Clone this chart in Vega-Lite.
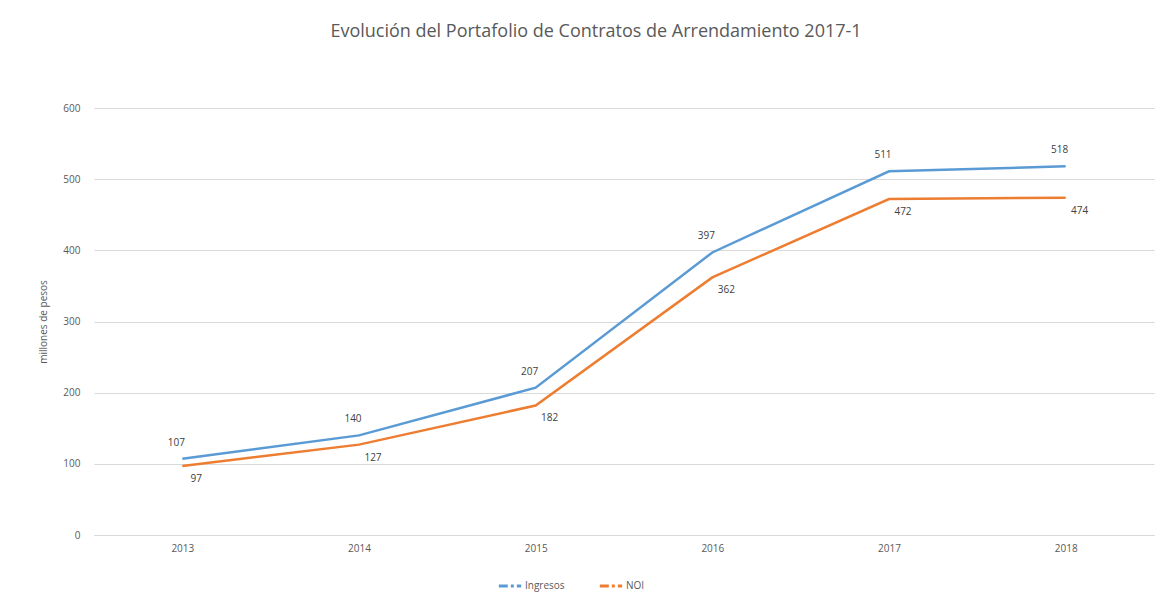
{
  "$schema": "https://vega.github.io/schema/vega-lite/v6.json",
  "width": 1060,
  "height": 427,
  "autosize": {"type": "none"},
  "padding": {"left": 94, "top": 108, "right": 18, "bottom": 61},
  "background": "white",
  "config": {
    "view": {"stroke": null},
    "font": "Open Sans"
  },
  "title": {
    "text": "Evolución del Portafolio de Contratos de Arrendamiento 2017-1",
    "fontSize": 18,
    "fontWeight": "normal",
    "color": "#595959",
    "font": "Open Sans",
    "anchor": "middle",
    "dx": -28,
    "offset": 62
  },
  "data": {
    "values": [
      {"year": "2013", "serie": "Ingresos", "value": 107},
      {"year": "2014", "serie": "Ingresos", "value": 140},
      {"year": "2015", "serie": "Ingresos", "value": 207},
      {"year": "2016", "serie": "Ingresos", "value": 397},
      {"year": "2017", "serie": "Ingresos", "value": 511},
      {"year": "2018", "serie": "Ingresos", "value": 518},
      {"year": "2013", "serie": "NOI", "value": 97},
      {"year": "2014", "serie": "NOI", "value": 127},
      {"year": "2015", "serie": "NOI", "value": 182},
      {"year": "2016", "serie": "NOI", "value": 362},
      {"year": "2017", "serie": "NOI", "value": 472},
      {"year": "2018", "serie": "NOI", "value": 474}
    ]
  },
  "encoding": {
    "x": {
      "field": "year",
      "type": "ordinal",
      "scale": {"type": "point", "padding": 0.5},
      "axis": {
        "title": null,
        "labelAngle": 0,
        "labelFontSize": 10,
        "labelColor": "#595959",
        "ticks": false,
        "domain": true,
        "domainColor": "#d9d9d9",
        "labelPadding": 8,
        "grid": false
      }
    },
    "y": {
      "field": "value",
      "type": "quantitative",
      "scale": {"domain": [0, 600]},
      "axis": {
        "title": "millones de pesos",
        "titleFontSize": 10,
        "titleFontWeight": "normal",
        "titleColor": "#595959",
        "titlePadding": 14,
        "values": [0, 100, 200, 300, 400, 500, 600],
        "labelFontSize": 10,
        "labelColor": "#595959",
        "ticks": false,
        "domain": false,
        "labelPadding": 14,
        "gridColor": "#d9d9d9",
        "gridWidth": 1
      }
    },
    "color": {
      "field": "serie",
      "type": "nominal",
      "scale": {"domain": ["Ingresos", "NOI"], "range": ["#5B9BD5", "#ED7D31"]},
      "legend": {
        "title": null,
        "orient": "none",
        "legendX": 403,
        "legendY": 465,
        "direction": "horizontal",
        "symbolType": "stroke",
        "symbolStrokeWidth": 3,
        "symbolSize": 500,
        "symbolDash": [9, 3, 3, 3],
        "labelFontSize": 10,
        "labelColor": "#595959",
        "labelOffset": 2,
        "columnPadding": 28
      }
    }
  },
  "layer": [
    {
      "mark": {"type": "line", "strokeWidth": 2.5, "point": false}
    },
    {
      "transform": [{"filter": "datum.serie === 'Ingresos'"}],
      "mark": {"type": "text", "dx": -6, "dy": -16, "fontSize": 10, "color": "#404040"},
      "encoding": {
        "text": {"field": "value", "type": "quantitative"},
        "color": {"value": "#404040"}
      }
    },
    {
      "transform": [{"filter": "datum.serie === 'NOI'"}],
      "mark": {"type": "text", "dx": 14, "dy": 13, "fontSize": 10, "color": "#404040"},
      "encoding": {
        "text": {"field": "value", "type": "quantitative"},
        "color": {"value": "#404040"}
      }
    }
  ]
}
